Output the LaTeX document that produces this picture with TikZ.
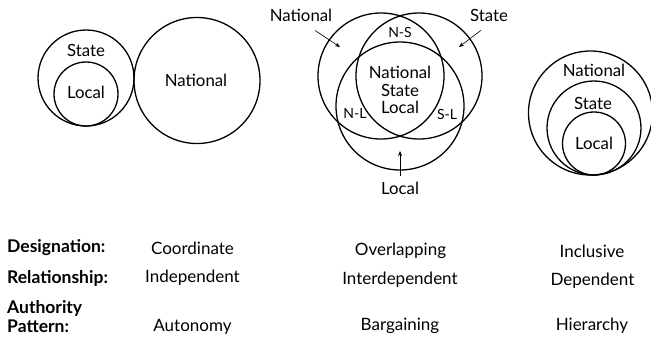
\documentclass[tikz,border=0pt]{standalone}
\usepackage{fontspec}
\setmainfont{Lato}
\usetikzlibrary{arrows.meta}
\begin{document}
\begin{tikzpicture}[x=1pt,y=-1pt,
  ring/.style={draw=black,line width=1.3pt},
  lbl/.style={font=\fontsize{16.8}{18}\selectfont,inner sep=0pt,align=center},
  small/.style={font=\fontsize{14}{16}\selectfont,inner sep=0pt},
  head/.style={font=\fontsize{17.5}{19}\selectfont\bfseries,inner sep=0pt,anchor=west,align=left},
  val/.style={font=\fontsize{17}{19}\selectfont,inner sep=0pt},
  pointer/.style={line width=0.6pt,-{Stealth[length=5pt,width=4pt]}}]
\useasboundingbox (0,0) rectangle (651,341);

% coordinate model: state contains local, national beside them
\draw[ring] (86,78) circle[radius=48];
\draw[ring] (86,94) circle[radius=32];
\draw[ring] (197,80.5) circle[radius=63];
\node[lbl] (cs) at (86,50) {State};
\node[lbl] (cl) at (86,92) {Local};
\node[lbl] (cn) at (196,80) {National};

% overlapping model: three intersecting spheres
\draw[ring] (381,76) circle[radius=63];
\draw[ring] (419,76) circle[radius=63];
\draw[ring] (400,106) circle[radius=64];
\node[lbl] (on) at (301,15) {National};
\node[lbl] (os) at (489,15) {State};
\node[lbl] (ol) at (400,188) {Local};
\node[small] (ns) at (400,32) {N-S};
\node[lbl,font=\fontsize{16.8}{17.5}\selectfont] (nsl) at (400,90) {National\\State\\Local};
\node[small] (nl) at (355,113) {N-L};
\node[small] (sl) at (447,114) {S-L};
\coordinate (onT) at (340,47);
\coordinate (osT) at (459,47);
\coordinate (olT) at (400,151);
\draw[pointer] ([xshift=14pt,yshift=-9pt]on.south) -- (onT);
\draw[pointer] ([xshift=-8pt,yshift=-9pt]os.south) -- (osT);
\draw[pointer] ([yshift=6pt]ol.north) -- (olT);

% inclusive model: nested spheres
\draw[ring] (590.5,113) circle[radius=62];
\draw[ring] (594,128) circle[radius=47];
\draw[ring] (594,143.5) circle[radius=31.5];
\node[lbl] (in) at (594,70) {National};
\node[lbl] (is) at (593,103) {State};
\node[lbl] (il) at (594,143) {Local};

% comparison table
\node[head] (h1) at (7,248) {Designation:};
\node[head] (h2) at (7,278) {Relationship:};
\node[head] (h3) at (7,317) {Authority\\Pattern:};
\node[val] (a1) at (192.5,248) {Coordinate};
\node[val] (a2) at (192.5,278) {Independent};
\node[val] (a3) at (192.5,327) {Autonomy};
\node[val] (b1) at (400.5,251) {Overlapping};
\node[val] (b2) at (400,280) {Interdependent};
\node[val] (b3) at (400,326) {Bargaining};
\node[val] (c1) at (592,251) {Inclusive};
\node[val] (c2) at (592.5,281) {Dependent};
\node[val] (c3) at (592,326) {Hierarchy};
\end{tikzpicture}
\end{document}
